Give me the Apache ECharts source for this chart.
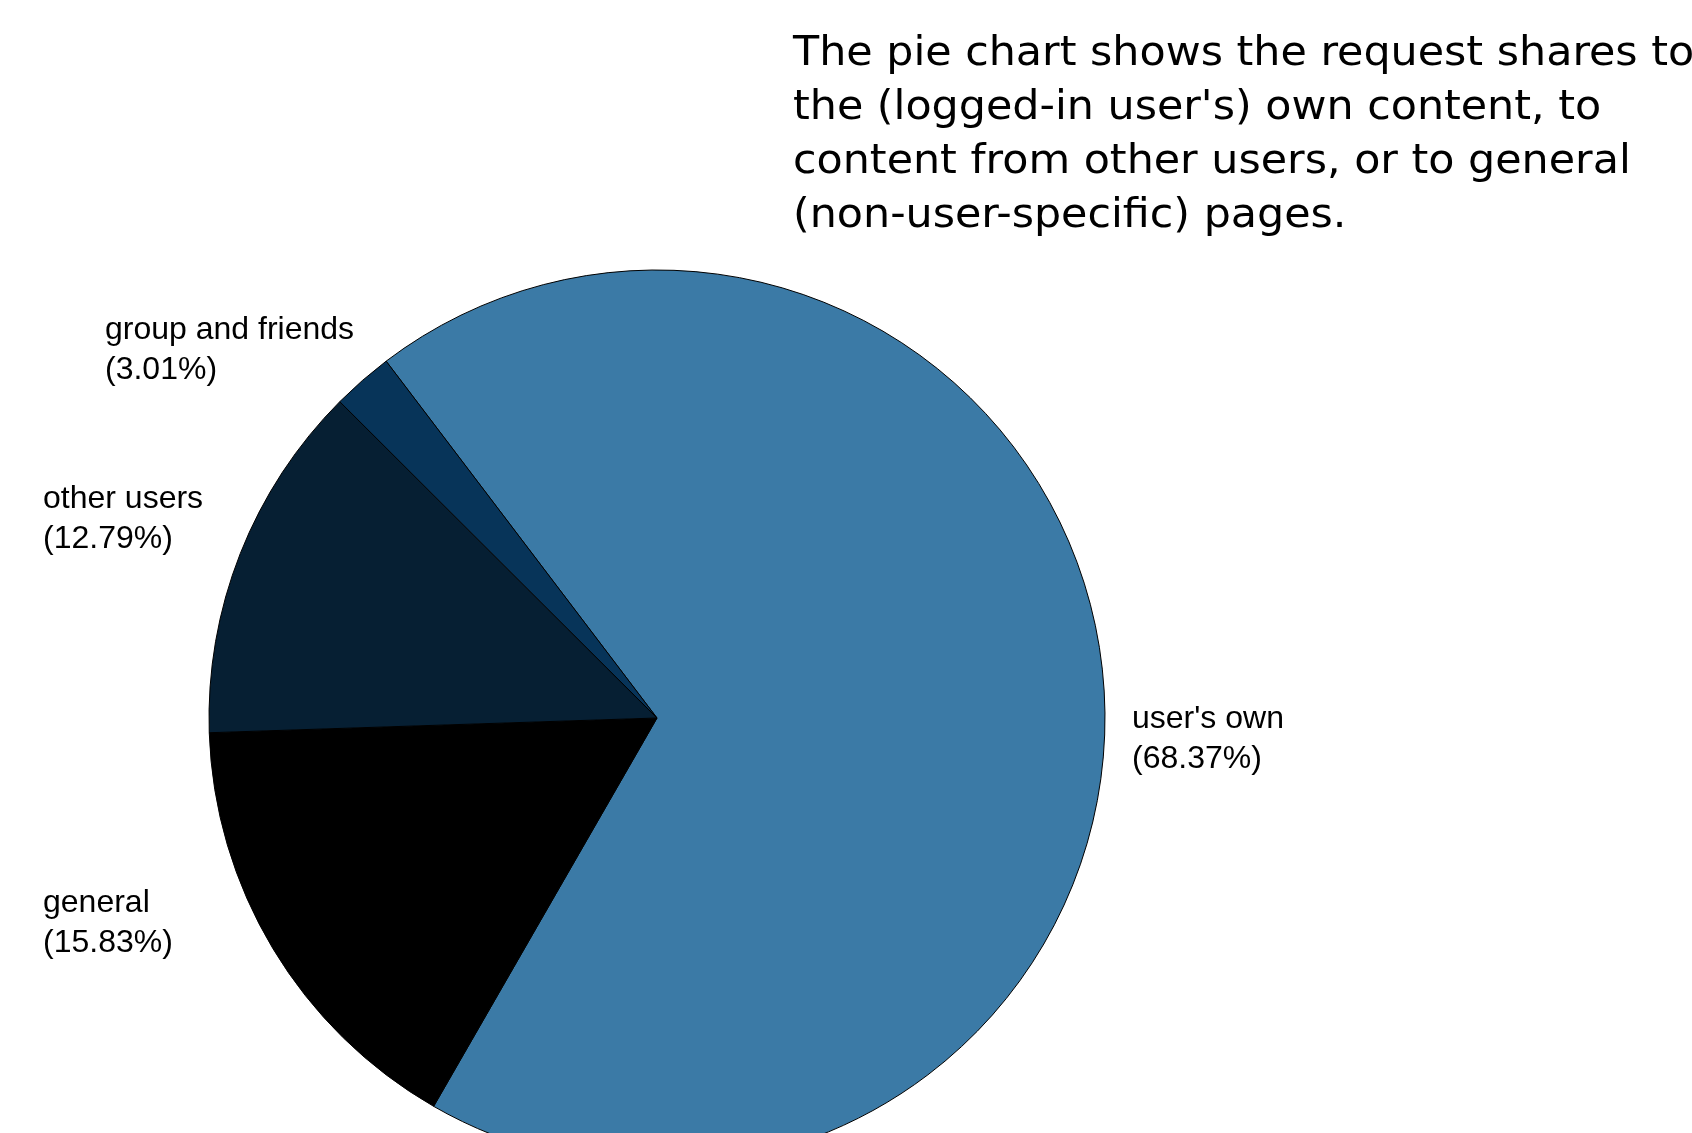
<!DOCTYPE html>
<html>
<head>
<meta charset="utf-8">
<title>Request shares</title>
<script src="https://cdn.jsdelivr.net/npm/echarts@6/dist/echarts.min.js"></script>
<style>
  html, body { margin: 0; padding: 0; background: #fff; }
  #chart { width: 1692px; height: 1133px; }
</style>
</head>
<body>
<div id="chart"></div>
<script>
// data
const categories = ["user's own", 'general', 'other users', 'group and friends'];
// percentages printed in the labels
const shares = [68.37, 15.83, 12.79, 3.01];
// slice sizes as drawn (measured from the wedge angles in the picture)
const sliceSizes = [68.64, 16.17, 13.0, 2.19];
const colors = ['#3b7aa6', '#000000', '#061f33', '#073459'];
const titleText = 'The pie chart shows the request shares to\nthe (logged-in user\'s) own content, to\ncontent from other users, or to general\n(non-user-specific) pages.';

// where each label block sits (left edge, vertical middle)
const labelSpots = [
    [1132, 739],
    [43, 923],
    [43, 519],
    [105, 350],
];

const chart = echarts.init(document.getElementById('chart'));

chart.setOption({
    animation: false,
    backgroundColor: '#fff',
    graphic: [
        {
            type: 'text',
            x: 793,
            y: 28,
            scaleX: 1.07,
            silent: true,
            style: {
                text: titleText,
                fontFamily: 'DejaVu Sans',
                fontSize: 40,
                lineHeight: 54,
                fill: '#000',
                textAlign: 'left',
                textVerticalAlign: 'top',
            },
        },
    ],
    series: [
        {
            type: 'pie',
            center: [657, 718],
            radius: 448,
            startAngle: 127.2,
            clockwise: true,
            avoidLabelOverlap: false,
            itemStyle: {
                borderColor: '#000',
                borderWidth: 1,
            },
            emphasis: { disabled: true },
            label: {
                show: true,
                position: 'outside',
                formatter: p => p.name + '\n(' + shares[p.dataIndex].toFixed(2) + '%)',
                fontFamily: 'Liberation Sans, Arial, sans-serif',
                fontSize: 32,
                lineHeight: 40,
                color: '#000',
            },
            labelLine: { show: false },
            labelLayout: p => ({
                x: labelSpots[p.dataIndex][0],
                y: labelSpots[p.dataIndex][1],
                align: 'left',
                verticalAlign: 'middle',
            }),
            data: categories.map((name, i) => ({
                name,
                value: sliceSizes[i],
                itemStyle: { color: colors[i] },
            })),
        },
    ],
});
</script>
</body>
</html>
